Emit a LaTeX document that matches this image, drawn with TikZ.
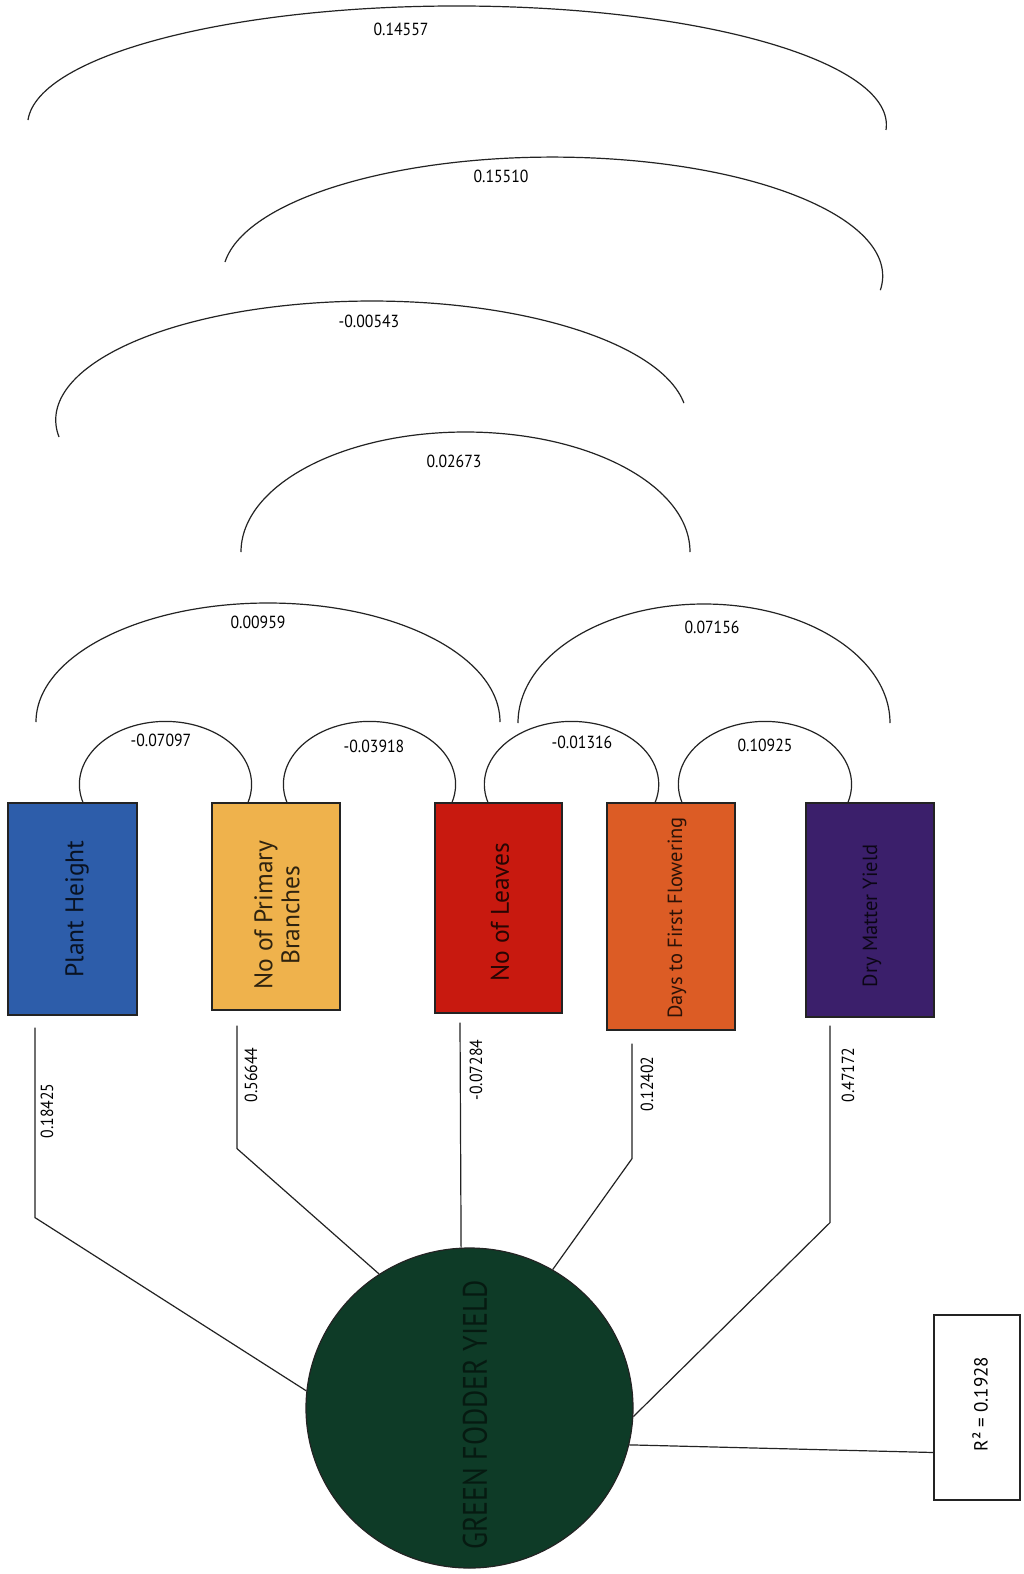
\documentclass[tikz,border=0pt]{standalone}
\usepackage{fontspec}
\setmainfont{PT Sans}
\newfontfamily\condfont[FakeStretch=0.82]{PT Sans}
\newfontfamily\numfont[FakeStretch=0.9]{PT Sans}
\usetikzlibrary{shapes.geometric,calc}
\definecolor{lineC}{RGB}{35,35,35}
\definecolor{cBlue}{RGB}{45,93,170}
\definecolor{cYellow}{RGB}{239,178,76}
\definecolor{cRed}{RGB}{200,25,15}
\definecolor{cOrange}{RGB}{220,92,37}
\definecolor{cPurple}{RGB}{59,31,107}
\definecolor{cGreen}{RGB}{14,59,39}
\begin{document}
\begin{tikzpicture}[x=1pt,y=-1pt,
  conn/.style={line width=1.2pt, draw=lineC},
  varbox/.style={draw=lineC, line width=1.2pt, inner sep=0pt},
  boxtext/.style={rotate=90, text=black, text opacity=0.8, inner sep=0pt, align=center},
  arclab/.style={font=\numfont\fontsize{17.5}{18}\selectfont, inner sep=0pt, text=black},
  pathlab/.style={rotate=90, font=\numfont\fontsize{17.5}{18}\selectfont, inner sep=0pt, text=black}]
\fill[white] (0,0) rectangle (1023,1574);
\useasboundingbox (0,0) rectangle (1023,1574);

% variable boxes
\node[varbox, fill=cBlue,   minimum width=129pt, minimum height=212pt] (ph) at (72.5,909) {};
\node[varbox, fill=cYellow, minimum width=128pt, minimum height=207pt] (pb) at (276,906.5) {};
\node[varbox, fill=cRed,    minimum width=127pt, minimum height=210pt] (nl) at (498.5,908) {};
\node[varbox, fill=cOrange, minimum width=128pt, minimum height=227pt] (df) at (671,916.5) {};
\node[varbox, fill=cPurple, minimum width=128pt, minimum height=214pt] (dm) at (870,910) {};

\node[boxtext, font=\fontsize{25.5}{28}\selectfont] (phT) at (77,909) {Plant Height};
\node[boxtext, font=\fontsize{25.5}{27}\selectfont] (pbT) at (277,915) {No of Primary\\Branches};
\node[boxtext, font=\fontsize{25.5}{28}\selectfont] (nlT) at (500,912) {No of Leaves};
\node[boxtext, font=\fontsize{20.5}{22}\selectfont] (dfT) at (677,918) {Days to First Flowering};
\node[boxtext, font=\fontsize{20.5}{22}\selectfont] (dmT) at (872,916) {Dry Matter Yield};

% dependent variable
\node[ellipse, draw=lineC, line width=1.2pt, fill=cGreen, minimum width=327pt, minimum height=320pt, inner sep=0pt] (gfy) at (469.5,1408) {};
\node[rotate=90, font=\condfont\fontsize{34}{34}\selectfont, text=black, text opacity=0.55, inner sep=0pt] (gfyT) at (475,1415) {GREEN FODDER YIELD};

\node[varbox, fill=white, minimum width=86pt, minimum height=185pt] (r2) at (977,1407.5) {};
\node[rotate=90, font=\fontsize{19}{19}\selectfont, inner sep=0pt] (r2T) at (980,1404) {R² = 0.1928};

% correlation arcs
\coordinate (a1L) at (28,120);
\coordinate (a2L) at (225,262);
\coordinate (a3L) at (59,437);
\coordinate (a4L) at (241,552);
\coordinate (a5L) at (36,722);
\coordinate (a6L) at (518,723);
\draw[conn] (a1L) arc[start angle=177.6, end angle=-2.4, x radius=429.4pt, y radius=119pt];
\draw[conn] (a2L) arc[start angle=173.2, end angle=-6.8, x radius=330pt, y radius=119pt];
\draw[conn] (a3L) arc[start angle=188.2, end angle=8.2, x radius=315.7pt, y radius=119pt];
\draw[conn] (a4L) arc[start angle=180, end angle=0, x radius=224.5pt, y radius=120pt];
\draw[conn] (a5L) arc[start angle=180, end angle=0, x radius=232pt, y radius=119pt];
\draw[conn] (a6L) arc[start angle=180, end angle=0, x radius=186pt, y radius=119pt];

\node[arclab] (a1T) at (401,29) {0.14557};
\node[arclab] (a2T) at (501,176) {0.15510};
\node[arclab] (a3T) at (369,321) {-0.00543};
\node[arclab] (a4T) at (454,461) {0.02673};
\node[arclab] (a5T) at (258,622) {0.00959};
\node[arclab] (a6T) at (712,627) {0.07156};

% adjacent loops
\draw[conn] ([xshift=10.5pt]ph.north) arc[start angle=196.6, end angle=-16.6, x radius=86.1pt, y radius=63pt];
\draw[conn] ([xshift=11pt]pb.north) arc[start angle=196.6, end angle=-16.6, x radius=86.1pt, y radius=63pt];
\draw[conn] ([xshift=-10.5pt]nl.north) arc[start angle=196.6, end angle=-16.6, x radius=87.2pt, y radius=63pt];
\draw[conn] ([xshift=11pt]df.north) arc[start angle=196.6, end angle=-16.6, x radius=86.6pt, y radius=63pt];

\node[arclab] (l1T) at (161,740) {-0.07097};
\node[arclab] (l2T) at (374,746) {-0.03918};
\node[arclab] (l3T) at (582,742) {-0.01316};
\node[arclab] (l4T) at (765,745) {0.10925};

% path lines
\draw[conn] ([xshift=-37.5pt,yshift=-12pt]ph.south) -- ++(0,190) -- (gfy.174);
\draw[conn] ([xshift=-39pt,yshift=-15pt]pb.south) -- ++(0,123) -- (gfy.124);
\draw[conn] ([xshift=-38.5pt,yshift=-9pt]nl.south) -- (gfy.93);
\draw[conn] ([xshift=-39pt,yshift=-13pt]df.south) -- ++(0,115) -- (gfy.59);
\draw[conn] ([xshift=-40pt,yshift=-8pt]dm.south) -- ++(0,197) -- (gfy.-3);
\draw[conn] (gfy.-13) -- ([yshift=-45pt]r2.west);

\node[pathlab] (p1T) at (47,1111) {0.18425};
\node[pathlab] (p2T) at (251,1075) {0.56644};
\node[pathlab] (p3T) at (476,1070) {-0.07284};
\node[pathlab] (p4T) at (647,1084) {0.12402};
\node[pathlab] (p5T) at (848,1075) {0.47172};
\end{tikzpicture}
\end{document}
